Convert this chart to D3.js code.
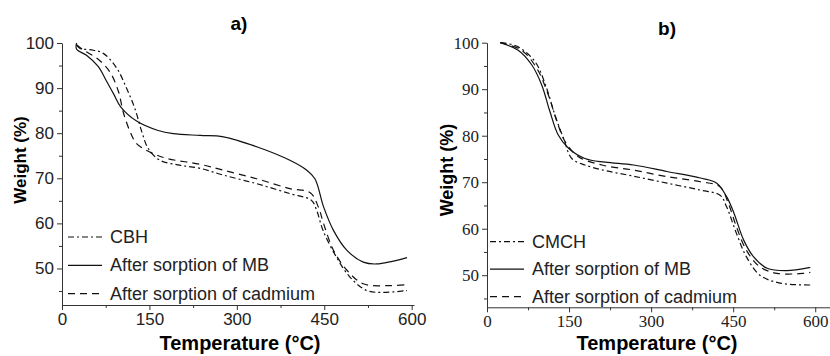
<!DOCTYPE html>
<html lang="en">
  <head>
    <meta charset="utf-8" />
    <title>TGA curves a) and b)</title>
    <script type="text/javascript" src="https://d3js.org/d3.v7.min.js"></script>
    <style>
      body { margin: 0; background: #fff; }
      svg { display: block; }
    </style>
  </head>
  <body>
    <div class="div_d3"></div>
    <script type="text/javascript">
      // ---- data ----
      // panel a)
      let tempA_CBH = [25, 31, 54, 71, 94, 111, 125, 137, 148, 168, 202, 237, 277, 334, 391, 428, 437, 448, 471, 494, 523, 551, 592];
      let wA_CBH = [99.5, 98.8, 98.4, 97.7, 94.4, 89.9, 85.5, 80.3, 76.6, 74.0, 72.9, 72.2, 70.7, 68.8, 66.6, 65.1, 62.9, 58.4, 52.5, 48.1, 45.1, 44.7, 45.1];
      let tempA_MB = [25, 25, 42, 62, 77, 89, 101, 128, 165, 191, 237, 277, 334, 391, 420, 434, 449, 466, 489, 517, 540, 592];
      let wA_MB = [100, 98.6, 97.3, 94.8, 91.4, 88.6, 85.8, 82.7, 80.6, 79.9, 79.5, 79.2, 77.0, 74.0, 71.8, 69.9, 63.6, 58.4, 54.0, 51.4, 51.0, 52.4];
      let tempA_Cd = [25, 37, 60, 82, 97, 105, 117, 128, 151, 180, 237, 277, 334, 391, 426, 440, 449, 466, 489, 517, 563, 592];
      let wA_Cd = [99.6, 98.4, 96.6, 93.6, 89.2, 84.7, 80.3, 77.7, 75.8, 74.4, 73.1, 71.8, 69.9, 67.7, 66.8, 63.6, 59.9, 54.0, 49.6, 46.6, 46.2, 46.4];

      // panel b)
      let tempB_CMCH = [25, 33, 57, 88, 109, 124, 140, 155, 179, 216, 268, 329, 390, 426, 438, 456, 474, 499, 536, 591];
      let wB_CMCH = [100, 99.9, 99.1, 95.9, 90.2, 84.5, 79.4, 75.1, 73.7, 72.5, 71.3, 69.8, 68.3, 67.2, 64.7, 59.0, 54.0, 50.0, 48.3, 47.9];
      let tempB_MB = [24, 57, 82, 100, 115, 130, 149, 179, 216, 268, 329, 390, 420, 438, 451, 469, 487, 512, 548, 591];
      let wB_MB = [100, 98.4, 95.2, 90.9, 85.2, 80.2, 77.3, 75.1, 74.3, 73.7, 72.3, 70.9, 69.8, 66.9, 63.5, 57.6, 54.0, 51.5, 51.0, 51.7];
      let tempB_Cd = [24, 63, 91, 112, 128, 143, 167, 210, 268, 329, 390, 426, 441, 456, 474, 499, 530, 579, 591];
      let wB_Cd = [100, 98.4, 94.5, 88.8, 83.0, 78.7, 75.5, 73.7, 72.6, 71.2, 70.1, 69.0, 65.5, 60.4, 55.4, 51.8, 50.4, 50.4, 50.6];

      let xTicks = [0, 150, 300, 450, 600];
      let yTicks = [50, 60, 70, 80, 90, 100];
      let legendA = ["CBH", "After sorption of MB", "After sorption of cadmium"];
      let legendB = ["CMCH", "After sorption of MB", "After sorption of cadmium"];

      let w = 830;
      let h = 356;

      let svg = d3
        .select(".div_d3")
        .append("svg")
        .attr("width", w)
        .attr("height", h);

      let dashes = ["6,3,2,3", null, "7,5"];

      function zip(t, v) {
        return t.map(function (d, i) {
          return [d, v[i]];
        });
      }

      function drawPanel(p) {
        let x = d3.scaleLinear().domain(p.xDomain).range([p.left, p.right]);
        let y = d3.scaleLinear().domain(p.yDomain).range([p.bottom, p.top]);
        let g = svg.append("g");

        // minor ticks
        g.append("g")
          .attr("transform", `translate(0,${p.bottom})`)
          .call(d3.axisBottom(x).tickValues([75, 225, 375, 525]).tickSize(3).tickFormat(""))
          .call(function (s) { s.select(".domain").remove(); });
        g.append("g")
          .attr("transform", `translate(${p.left},0)`)
          .call(d3.axisLeft(y).tickValues([45, 55, 65, 75, 85, 95]).tickSize(3).tickFormat(""))
          .call(function (s) { s.select(".domain").remove(); });

        // major axes
        let xa = g.append("g")
          .attr("transform", `translate(0,${p.bottom})`)
          .call(d3.axisBottom(x).tickValues(xTicks).tickSize(5).tickSizeOuter(0).tickPadding(3));
        let ya = g.append("g")
          .attr("transform", `translate(${p.left},0)`)
          .call(d3.axisLeft(y).tickValues(yTicks).tickSize(5).tickSizeOuter(0).tickPadding(3));

        g.selectAll(".tick line, .domain").attr("stroke", "#333").attr("stroke-width", 1);
        [xa, ya].forEach(function (a) {
          a.selectAll("text")
            .style("font-family", p.tickFont)
            .style("font-size", p.tickSize + "px")
            .attr("fill", "#222");
        });

        // curves
        let line = d3.line()
          .x(function (d) { return x(d[0]); })
          .y(function (d) { return y(d[1]); })
          .curve(d3.curveCatmullRom.alpha(0.5));

        p.series.forEach(function (s, i) {
          g.append("path")
            .attr("d", line(zip(s[0], s[1])))
            .attr("fill", "none")
            .attr("stroke", "#111")
            .attr("stroke-width", 1.2)
            .attr("stroke-dasharray", dashes[i]);
        });

        // legend
        p.legend.forEach(function (name, i) {
          let ly = p.legY + i * p.legStep;
          g.append("line")
            .attr("x1", p.legX)
            .attr("x2", p.legX + 34)
            .attr("y1", ly)
            .attr("y2", ly)
            .attr("stroke", "#111")
            .attr("stroke-width", 1.2)
            .attr("stroke-dasharray", dashes[i]);
          g.append("text")
            .attr("x", p.legX + 42)
            .attr("y", ly + 6)
            .style("font-family", "Liberation Sans, Arial, sans-serif")
            .style("font-size", "18px")
            .attr("fill", "#222")
            .text(name);
        });

        // titles
        g.append("text")
          .attr("x", p.titleX)
          .attr("y", p.titleY)
          .attr("text-anchor", "middle")
          .style("font-family", "Liberation Sans, Arial, sans-serif")
          .style("font-weight", "bold")
          .style("font-size", "19px")
          .text(p.title);

        g.append("text")
          .attr("x", p.xLabelX)
          .attr("y", 350)
          .attr("text-anchor", "middle")
          .style("font-family", "Liberation Sans, Arial, sans-serif")
          .style("font-weight", "bold")
          .style("font-size", "20px")
          .text("Temperature (°C)");

        g.append("text")
          .attr("transform", `translate(${p.yLabelX},${p.yLabelY}) rotate(-90)`)
          .attr("text-anchor", "middle")
          .style("font-family", "Liberation Sans, Arial, sans-serif")
          .style("font-weight", "bold")
          .style("font-size", p.yLabelSize + "px")
          .text("Weight (%)");
      }

      drawPanel({
        left: 62, right: 414, top: 43, bottom: 305,
        xDomain: [0, 604], yDomain: [41.9, 100],
        tickFont: "Liberation Sans, Arial, sans-serif", tickSize: 17,
        series: [[tempA_CBH, wA_CBH], [tempA_MB, wA_MB], [tempA_Cd, wA_Cd]],
        legend: legendA, legX: 68, legY: 237, legStep: 28.3,
        title: "a)", titleX: 239, titleY: 30,
        xLabelX: 240, yLabelX: 26, yLabelY: 160, yLabelSize: 17
      });

      drawPanel({
        left: 487, right: 830, top: 42.7, bottom: 307.3,
        xDomain: [0, 627], yDomain: [43.1, 100],
        tickFont: "Liberation Serif, Times New Roman, serif", tickSize: 17,
        series: [[tempB_CMCH, wB_CMCH], [tempB_MB, wB_MB], [tempB_Cd, wB_Cd]],
        legend: legendB, legX: 490, legY: 241.7, legStep: 27.5,
        title: "b)", titleX: 667, titleY: 35,
        xLabelX: 657, yLabelX: 453, yLabelY: 170, yLabelSize: 18
      });
    </script>
  </body>
</html>
